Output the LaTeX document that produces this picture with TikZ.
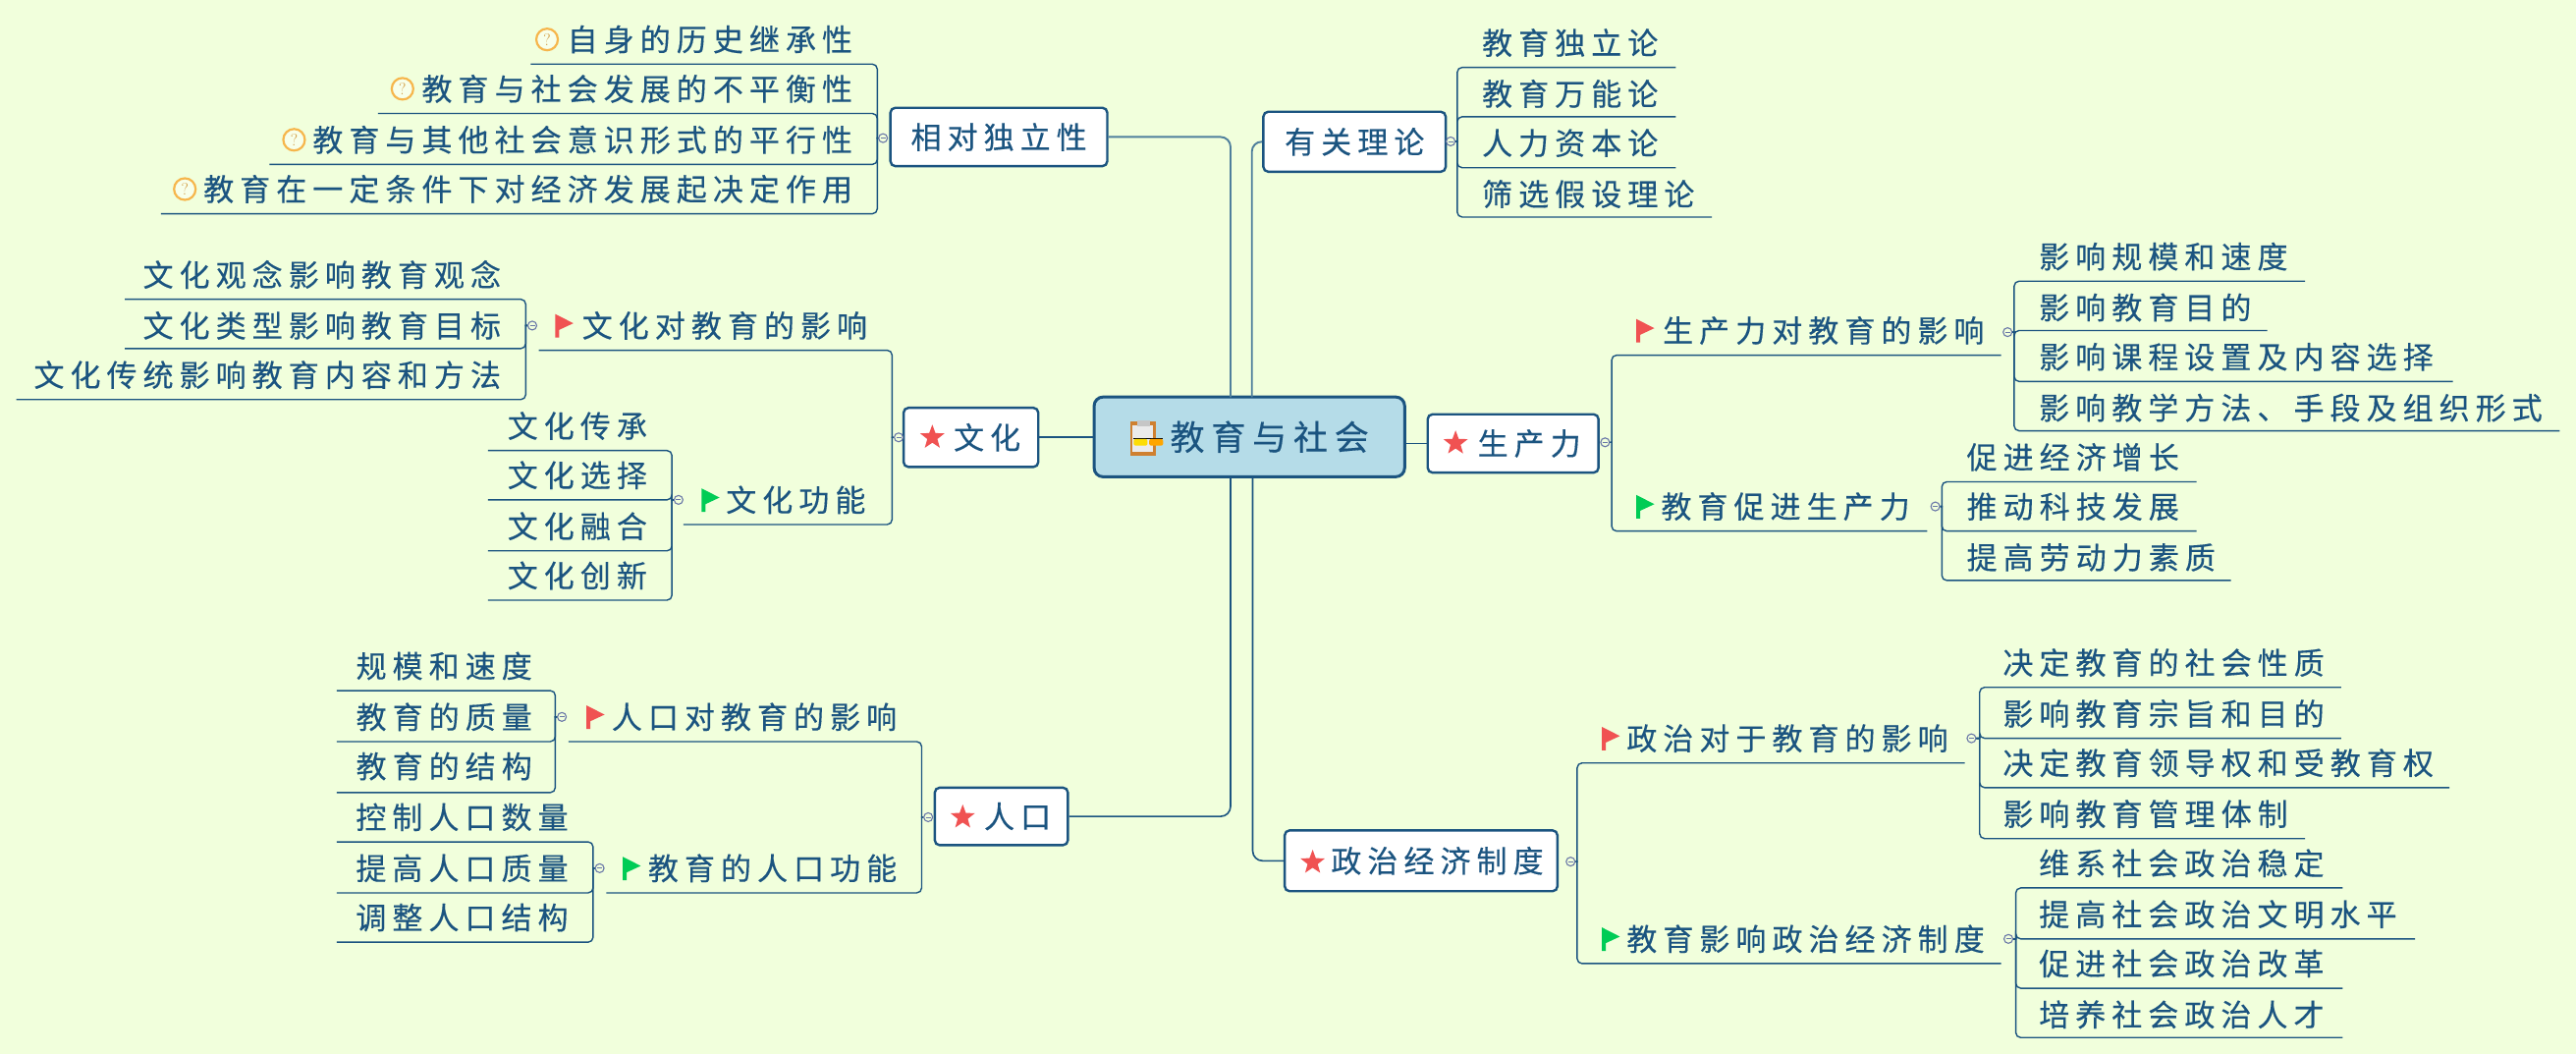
\documentclass[tikz,border=0pt]{standalone}
\usepackage{fontspec}
\usetikzlibrary{shapes.geometric}
\newfontfamily\zhf[LetterSpace=19.5,FakeBold=0.3]{Noto Sans CJK SC}
\definecolor{ink}{HTML}{1B5480}
\definecolor{softink}{HTML}{4F7F9C}
\definecolor{bgc}{HTML}{F1FFDC}
\definecolor{rootc}{HTML}{B5DCE8}
\definecolor{starc}{HTML}{F05252}
\definecolor{flagg}{HTML}{00CC55}
\definecolor{qc}{HTML}{F6B64C}
\definecolor{cc}{HTML}{6A78A8}
\newcommand\zh[1]{{\zhf #1}}
\tikzset{
  x=1.67283pt,y=-1.67395pt,
  lbl/.style={inner sep=0pt,text=ink,font=\fontsize{31}{34}\selectfont},
  conn/.style={draw=ink,line width=1.4pt,rounded corners=5pt},
  mainconn/.style={conn,rounded corners=10pt,line width=1.6pt},
  softconn/.style={mainconn,draw=softink,line width=1.9pt},
  topbox/.style={draw=ink,line width=2.4pt,fill=white,rounded corners=5pt,inner sep=0pt,text=ink,font=\fontsize{31}{34}\selectfont},
  rootbox/.style={topbox,line width=3pt,rounded corners=9pt,fill=rootc,font=\fontsize{35}{38}\selectfont},
  coll/.style={circle,draw=cc,fill=bgc,line width=1.1pt,inner sep=0pt,minimum size=9pt,
     path picture={\draw[cc,line width=0.9pt] ([xshift=-2.5pt]path picture bounding box.center)--([xshift=2.5pt]path picture bounding box.center);}},
  stari/.style={star,star points=5,star point ratio=2.4,fill=starc,inner sep=0pt,minimum size=26pt},
  qi/.style={circle,draw=qc,fill=bgc!60!white,line width=2.2pt,inner sep=0pt,minimum size=22pt,text=qc!85!black,font=\fontsize{17}{17}\selectfont},
}
% right-hand topic: name, parent circle, spine x, underline y, end x, text x, text y, text
\newcommand\rt[8]{%
  \node[lbl,anchor=west] (#1) at (#6,#7) {\zh{#8}};
  \coordinate (#1a) at (#3,#4); \coordinate (#1b) at (#5,#4);
  \draw[conn] (#2.east) [sharp corners] -- (#2.east -| #1a) [rounded corners=5pt] -- (#1a) -- (#1b);
}
\newcommand\lt[8]{%
  \node[lbl,anchor=east] (#1) at (#6,#7) {\zh{#8}};
  \coordinate (#1a) at (#3,#4); \coordinate (#1b) at (#5,#4);
  \draw[conn] (#2.west) [sharp corners] -- (#2.west -| #1a) [rounded corners=5pt] -- (#1a) -- (#1b);
}
\newcommand\flagi[3]{%
  \fill[#1] (#2,#3) -- ++(11,5.6) -- ++(-8.6,4) -- ++(0,4.7) -- ++(-2.4,0) -- cycle;
}
\begin{document}
\begin{tikzpicture}
\useasboundingbox (0,0) rectangle (1568,641);
\fill[bgc] (0,0) rectangle (1568,641);

% root and main boxes
\node[rootbox,minimum width=189*1.67283pt,minimum height=48.5*1.67395pt] (root) at (760.5,265.7) {\hspace*{41pt}\zh{教育与社会}};
\node[topbox,minimum width=132*1.67283pt,minimum height=35.5*1.67395pt] (xd) at (608,83.3) {\zh{相对独立性}};
\node[topbox,minimum width=111*1.67283pt,minimum height=36.5*1.67395pt] (ll) at (824.5,86.2) {\zh{有关理论}};
\node[topbox,minimum width=82*1.67283pt,minimum height=36*1.67395pt] (wh) at (591,266) {\hspace*{33pt}\zh{文化}};
\node[topbox,minimum width=104*1.67283pt,minimum height=35.5*1.67395pt] (sc) at (921,269.7) {\hspace*{33pt}\zh{生产力}};
\node[topbox,minimum width=81*1.67283pt,minimum height=35*1.67395pt] (rk) at (609.5,496.5) {\hspace*{33pt}\zh{人口}};
\node[topbox,minimum width=166*1.67283pt,minimum height=37*1.67395pt] (zz) at (865,523.5) {\hspace*{33pt}\zh{政治经济制度}};

% main connectors
\coordinate (tl) at (749,241.5); \coordinate (tr) at (762,241.5);
\coordinate (bl) at (749,290); \coordinate (br) at (762.5,290);
\draw[softconn] (tl) |- (xd.east);
\draw[softconn] (tr) |- (ll.west);
\draw[mainconn] (bl) |- (rk.east);
\draw[mainconn] (br) |- (zz.west);
\draw[mainconn] (wh.east) -- (wh.east -| root.west);
\draw[mainconn] (sc.west) -- (sc.west -| root.east);

% root icon
\fill[brown!75!orange] (688,256.5) rectangle (703.5,277);
\fill[white!92!black] (689.5,258.5) rectangle (702,275);
\fill[gray!45] (692,255.5) rectangle (700,259);
\fill[black] (690,266.2) rectangle (708,267.2);
\fill[yellow!80!orange,rounded corners=2pt] (690,267) rectangle (698.5,271);
\fill[orange!70!yellow,rounded corners=2pt] (699.5,267) rectangle (708,271);

% stars
\node[stari] (s1) at (567.5,266) {};
\node[stari] (s2) at (886,269.5) {};
\node[stari] (s3) at (586,497) {};
\node[stari] (s4) at (799,524.5) {};

% collapse circles
\node[coll] (c1) at (537.5,84) {};
\node[coll] (c2) at (883,86) {};
\node[coll] (c3) at (547,266) {};
\node[coll] (c4) at (977,269) {};
\node[coll] (c5) at (565,497) {};
\node[coll] (c6) at (956,524) {};
\node[coll] (c31) at (324,198) {};
\node[coll] (c32) at (413,304) {};
\node[coll] (c41) at (1222,202) {};
\node[coll] (c42) at (1178,308) {};
\node[coll] (c51) at (342,436) {};
\node[coll] (c52) at (365,528) {};
\node[coll] (c61) at (1200,449) {};
\node[coll] (c62) at (1222.5,571) {};

% 有关理论
\rt{a1}{c2}{887}{41}{1020}{902}{26}{教育独立论}
\rt{a2}{c2}{887}{71}{1020}{902}{57}{教育万能论}
\rt{a3}{c2}{887}{102}{1020}{902}{87}{人力资本论}
\rt{a4}{c2}{887}{132}{1042}{902}{118}{筛选假设理论}

% 生产力
\rt{b1}{c4}{981}{216}{1218}{1012}{201}{生产力对教育的影响}
\rt{b2}{c4}{981}{323}{1173}{1011}{308}{教育促进生产力}
\flagi{starc}{996}{194}
\flagi{flagg}{996}{301}
\rt{b11}{c41}{1226}{171}{1403}{1241}{156}{影响规模和速度}
\rt{b12}{c41}{1226}{201}{1380}{1241}{187}{影响教育目的}
\rt{b13}{c41}{1226}{232}{1493}{1241}{217}{影响课程设置及内容选择}
\rt{b14}{c41}{1226}{262}{1558}{1241}{248}{影响教学方法、手段及组织形式}
\rt{b21}{c42}{1182}{293}{1337}{1197}{278}{促进经济增长}
\rt{b22}{c42}{1182}{323}{1337}{1197}{308}{推动科技发展}
\rt{b23}{c42}{1182}{353}{1358}{1197}{339}{提高劳动力素质}

% 政治经济制度
\rt{d1}{c6}{960}{464}{1196}{990}{449}{政治对于教育的影响}
\rt{d2}{c6}{960}{586}{1218}{990}{571}{教育影响政治经济制度}
\flagi{starc}{975}{442}
\flagi{flagg}{975}{564}
\rt{d11}{c61}{1205}{418}{1425}{1219}{403}{决定教育的社会性质}
\rt{d12}{c61}{1205}{449}{1425}{1219}{434}{影响教育宗旨和目的}
\rt{d13}{c61}{1205}{479}{1491}{1219}{464}{决定教育领导权和受教育权}
\rt{d14}{c61}{1205}{510}{1403}{1219}{495}{影响教育管理体制}
\rt{d21}{c62}{1227}{540}{1426}{1241}{525}{维系社会政治稳定}
\rt{d22}{c62}{1227}{571}{1470}{1241}{556}{提高社会政治文明水平}
\rt{d23}{c62}{1227}{601}{1426}{1241}{586}{促进社会政治改革}
\rt{d24}{c62}{1227}{631}{1426}{1241}{617}{培养社会政治人才}

% 相对独立性
\lt{e1}{c1}{534}{39}{323}{519}{24}{自身的历史继承性}
\lt{e2}{c1}{534}{69}{230}{519}{54}{教育与社会发展的不平衡性}
\lt{e3}{c1}{534}{100}{164}{519}{85}{教育与其他社会意识形式的平行性}
\lt{e4}{c1}{534}{130}{98}{519}{115}{教育在一定条件下对经济发展起决定作用}
\node[qi] (q1) at (333,24) {?};
\node[qi] (q2) at (245,54) {?};
\node[qi] (q3) at (179,85) {?};
\node[qi] (q4) at (112.5,115) {?};

% 文化
\lt{f1}{c3}{543}{213}{328}{528}{198}{文化对教育的影响}
\lt{f2}{c3}{543}{319}{416}{527}{304}{文化功能}
\flagi{starc}{338}{191}
\flagi{flagg}{427}{297}
\lt{f11}{c31}{320}{182}{76}{305}{167}{文化观念影响教育观念}
\lt{f12}{c31}{320}{212}{76}{305}{198}{文化类型影响教育目标}
\lt{f13}{c31}{320}{243}{10}{305}{228}{文化传统影响教育内容和方法}
\lt{f21}{c32}{409}{274}{297}{394}{259}{文化传承}
\lt{f22}{c32}{409}{304}{297}{394}{289}{文化选择}
\lt{f23}{c32}{409}{335}{297}{394}{320}{文化融合}
\lt{f24}{c32}{409}{365}{297}{394}{350}{文化创新}

% 人口
\lt{g1}{c5}{561}{451}{346}{546}{436}{人口对教育的影响}
\lt{g2}{c5}{561}{543}{369}{546}{528}{教育的人口功能}
\flagi{starc}{357}{429}
\flagi{flagg}{379}{521}
\lt{g11}{c51}{338}{420}{205}{324}{405}{规模和速度}
\lt{g12}{c51}{338}{451}{205}{324}{436}{教育的质量}
\lt{g13}{c51}{338}{482}{205}{324}{466}{教育的结构}
\lt{g21}{c52}{361}{512}{205}{346}{497}{控制人口数量}
\lt{g22}{c52}{361}{543}{205}{346}{528}{提高人口质量}
\lt{g23}{c52}{361}{573}{205}{346}{558}{调整人口结构}
\end{tikzpicture}
\end{document}
